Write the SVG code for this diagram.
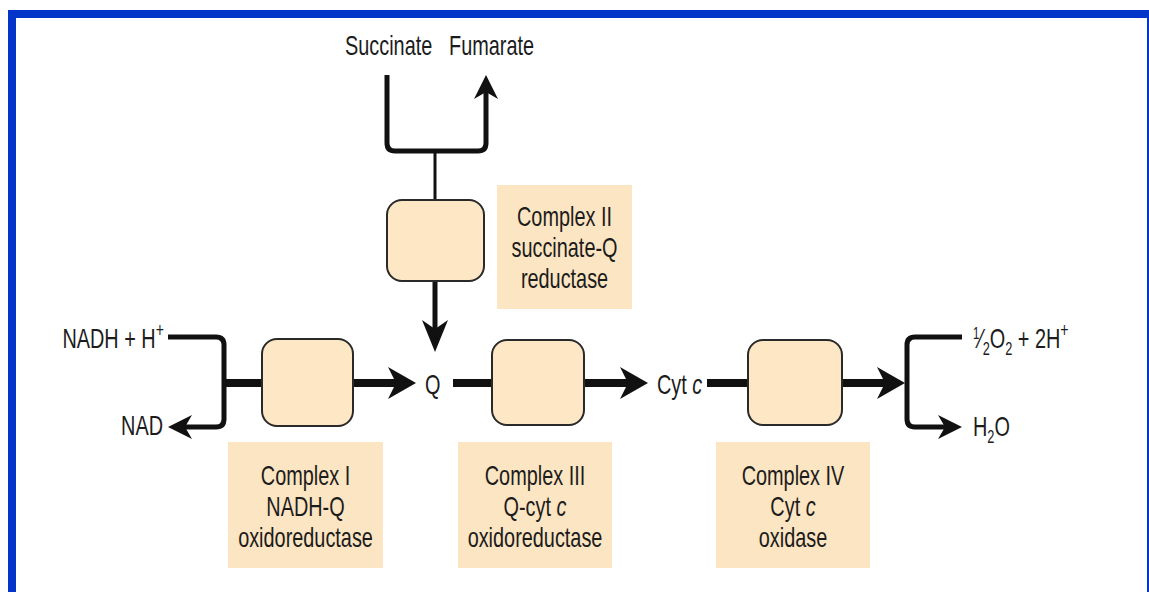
<svg xmlns="http://www.w3.org/2000/svg" width="1149" height="592" viewBox="0 0 1149 592">
<style>
.t{font-family:"Liberation Sans",Arial,sans-serif;font-size:28px;fill:#1c1c1c}
.box{fill:#fde7c5;stroke:#2a2a2a;stroke-width:2}
.lbl{fill:#fce5c2}
.thick{stroke:#111;stroke-width:8;fill:none}
.med{stroke:#111;stroke-width:5;fill:none;stroke-linejoin:round}
.thin{stroke:#111;stroke-width:3;fill:none}
.frame{fill:#0335cb}
</style>
<defs>
<marker id="ahL" viewBox="0 0 28 32" refX="14" refY="16" markerWidth="28" markerHeight="32" markerUnits="userSpaceOnUse" orient="auto"><path d="M0,0 L28,16 L0,32 L8,16 Z" fill="#111"/></marker>
<marker id="ahM" viewBox="0 0 32 26" refX="16" refY="13" markerWidth="32" markerHeight="26" markerUnits="userSpaceOnUse" orient="auto"><path d="M0,0 L32,13 L0,26 L9,13 Z" fill="#111"/></marker>
<marker id="ahS" viewBox="0 0 24 24" refX="12" refY="12" markerWidth="24" markerHeight="24" markerUnits="userSpaceOnUse" orient="auto"><path d="M0,0 L24,12 L0,24 L7,12 Z" fill="#111"/></marker>
</defs>
<rect width="1149" height="592" fill="#ffffff"/>
<g id="frame">
<rect class="frame" x="8" y="10" width="1141" height="8"/>
<rect class="frame" x="8" y="10" width="8" height="582"/>
<rect class="frame" x="1147" y="10" width="2" height="582"/>
</g>
<g id="connectors">
<path class="med" d="M387,75 V143 Q387,151 395,151 H478 Q486,151 486,143 V87" marker-end="url(#ahS)"/>
<path class="thin" d="M435,151 V200"/>
<path class="med" d="M435,281 V336" marker-end="url(#ahM)"/>
<path class="med" d="M168,337 H216 Q224,337 224,345 V419 Q224,427 216,427 H180" marker-end="url(#ahS)"/>
<path class="thick" d="M224,383 H262"/>
<path class="thick" d="M353,383 H402" marker-end="url(#ahL)"/>
<path class="thick" d="M453,383 H492"/>
<path class="thick" d="M584,383 H634" marker-end="url(#ahL)"/>
<path class="thick" d="M707,383 H748"/>
<path class="thick" d="M842,383 H891" marker-end="url(#ahL)"/>
<path class="med" d="M962,337 H915 Q907,337 907,345 V419 Q907,427 915,427 H950" marker-end="url(#ahS)"/>
</g>
<g id="complex2">
<rect class="box" x="387" y="200" width="97" height="81" rx="15"/>
<rect class="lbl" x="497" y="185" width="135" height="124"/>
<g class="t" text-anchor="middle">
<text transform="translate(564.5,226) scale(0.71,1)">Complex II</text>
<text transform="translate(564.5,257) scale(0.71,1)">succinate-Q</text>
<text transform="translate(564.5,288) scale(0.71,1)">reductase</text>
</g>
</g>
<g id="complex1">
<rect class="box" x="262" y="339" width="91" height="87" rx="15"/>
<rect class="lbl" x="228" y="442" width="155" height="126"/>
<g class="t" text-anchor="middle">
<text transform="translate(305.5,485) scale(0.71,1)">Complex I</text>
<text transform="translate(305.5,516) scale(0.71,1)">NADH-Q</text>
<text transform="translate(305.5,547) scale(0.71,1)">oxidoreductase</text>
</g>
</g>
<g id="complex3">
<rect class="box" x="492" y="340" width="92" height="85" rx="15"/>
<rect class="lbl" x="458" y="442" width="154" height="126"/>
<g class="t" text-anchor="middle">
<text transform="translate(535,485) scale(0.71,1)">Complex III</text>
<text transform="translate(535,516) scale(0.71,1)">Q-cyt <tspan font-style="italic">c</tspan></text>
<text transform="translate(535,547) scale(0.71,1)">oxidoreductase</text>
</g>
</g>
<g id="complex4">
<rect class="box" x="748" y="340" width="94" height="85" rx="15"/>
<rect class="lbl" x="716" y="442" width="154" height="126"/>
<g class="t" text-anchor="middle">
<text transform="translate(793,485) scale(0.71,1)">Complex IV</text>
<text transform="translate(793,516) scale(0.71,1)">Cyt <tspan font-style="italic">c</tspan></text>
<text transform="translate(793,547) scale(0.71,1)">oxidase</text>
</g>
</g>
<g id="succinate"><text class="t" transform="translate(345,55) scale(0.71,1)">Succinate</text></g>
<g id="fumarate"><text class="t" transform="translate(449,55) scale(0.71,1)">Fumarate</text></g>
<g id="nadh"><text class="t" text-anchor="end" transform="translate(164,348) scale(0.71,1)">NADH + H<tspan font-size="20" dy="-11">+</tspan></text></g>
<g id="nad"><text class="t" text-anchor="end" transform="translate(163,435) scale(0.71,1)">NAD</text></g>
<g id="q"><text class="t" transform="translate(425,394) scale(0.71,1)">Q</text></g>
<g id="cytc"><text class="t" transform="translate(657,394) scale(0.71,1)">Cyt <tspan font-style="italic">c</tspan></text></g>
<g id="oxygen"><text class="t" transform="translate(973,348) scale(0.71,1)"><tspan font-size="16" dy="-9">1</tspan><tspan dy="9">⁄</tspan><tspan font-size="18" dy="7">2</tspan><tspan dy="-7">O</tspan><tspan font-size="18" dy="7">2</tspan><tspan dy="-7"> + 2H</tspan><tspan font-size="20" dy="-11">+</tspan></text></g>
<g id="water"><text class="t" transform="translate(973,436) scale(0.71,1)">H<tspan font-size="18" dy="7">2</tspan><tspan dy="-7">O</tspan></text></g>
</svg>
